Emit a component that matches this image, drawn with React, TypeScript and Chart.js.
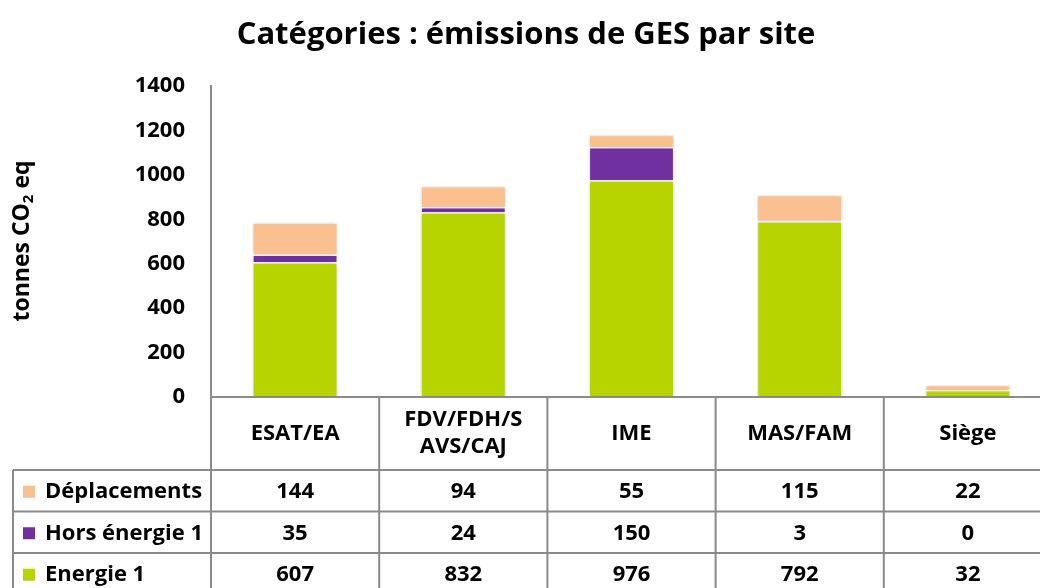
import React, { useEffect, useRef } from "react";
import { Chart, registerables } from "chart.js";

Chart.register(...registerables);

const titleText = "Catégories : émissions de GES par site";
const categoryLines: string[][] = [["ESAT/EA"], ["FDV/FDH/S", "AVS/CAJ"], ["IME"], ["MAS/FAM"], ["Siège"]];
const categories = categoryLines.map((l) => l.join(""));
const energie1 = [607, 832, 976, 792, 32];
const horsEnergie1 = [35, 24, 150, 3, 0];
const deplacements = [144, 94, 55, 115, 22];
const yMin = 0;
const yMax = 1400;
const yStep = 200;

const FONT = "'Open Sans', 'Noto Sans', sans-serif";
const GRID = "#8a8a8a";

const tablePlugin = {
  id: "dataTable",
  afterDraw(chart: any) {
    const { ctx, chartArea } = chart;
    const xs = chart.scales.x;
    const n = categories.length;
    const catW = (chartArea.right - chartArea.left) / n;
    const top = chartArea.bottom;
    const headerBottom = top + 73;
    const rowH = 41.5;
    const bottom = chart.height + 10;
    const legendLeft = 13;
    ctx.save();
    ctx.strokeStyle = GRID;
    ctx.lineWidth = 2;
    ctx.beginPath();
    ctx.moveTo(chartArea.left, top);
    ctx.lineTo(chart.width, top);
    ctx.stroke();
    for (let i = 0; i <= n; i++) {
      const x = chartArea.left + i * catW;
      ctx.beginPath();
      ctx.moveTo(x, top);
      ctx.lineTo(x, bottom);
      ctx.stroke();
    }
    ctx.beginPath();
    ctx.moveTo(legendLeft, headerBottom);
    ctx.lineTo(legendLeft, bottom);
    ctx.stroke();
    for (let r = 0; r < 3; r++) {
      const y = headerBottom + r * rowH;
      ctx.beginPath();
      ctx.moveTo(legendLeft, y);
      ctx.lineTo(chart.width, y);
      ctx.stroke();
    }
    ctx.fillStyle = "#000";
    ctx.font = `bold 22px ${FONT}`;
    ctx.textAlign = "center";
    ctx.textBaseline = "middle";
    const headerMid = (top + headerBottom) / 2;
    categoryLines.forEach((lines, i) => {
      const cx = xs.getPixelForValue(i);
      const lh = 27;
      lines.forEach((t, k) => {
        ctx.fillText(t, cx, headerMid + (k - (lines.length - 1) / 2) * lh);
      });
    });
    const ds = chart.data.datasets.slice().reverse();
    ds.forEach((d: any, r: number) => {
      const cy = headerBottom + r * rowH + rowH / 2 + 1;
      ctx.textAlign = "center";
      ctx.fillStyle = "#000";
      d.data.forEach((v: number, i: number) => {
        ctx.fillText(String(v), xs.getPixelForValue(i), cy);
      });
      ctx.fillStyle = d.backgroundColor;
      ctx.fillRect(23, cy - 6, 12, 12);
      ctx.fillStyle = "#000";
      ctx.textAlign = "left";
      ctx.fillText(d.label, 45, cy);
    });
    // y axis title with subscript
    ctx.translate(22, 241);
    ctx.rotate(-Math.PI / 2);
    ctx.textBaseline = "middle";
    ctx.textAlign = "left";
    const p1 = "tonnes CO";
    const p2 = "2";
    const p3 = " eq";
    const big = `bold 23px ${FONT}`;
    const small = `bold 15px ${FONT}`;
    ctx.font = big;
    const w1 = ctx.measureText(p1).width;
    const w3 = ctx.measureText(p3).width;
    ctx.font = small;
    const w2 = ctx.measureText(p2).width;
    const x0 = -(w1 + w2 + w3) / 2;
    ctx.font = big;
    ctx.fillText(p1, x0, 0);
    ctx.font = small;
    ctx.fillText(p2, x0 + w1, 7);
    ctx.font = big;
    ctx.fillText(p3, x0 + w1 + w2, 0);
    ctx.restore();
  },
};

const shadowPlugin = {
  id: "barShadow",
  beforeDatasetsDraw(chart: any) {
    const ctx = chart.ctx;
    ctx.save();
    ctx.shadowColor = "rgba(0,0,0,0.22)";
    ctx.shadowBlur = 4;
  },
  afterDatasetsDraw(chart: any) {
    chart.ctx.restore();
  },
};

export default function App() {
  const ref = useRef<HTMLCanvasElement>(null);
  useEffect(() => {
    Chart.defaults.font.family = FONT;
    const common = { borderColor: "#ffffff", borderWidth: 1.5, categoryPercentage: 1, barPercentage: 0.51 };
    const chart = new Chart(ref.current as HTMLCanvasElement, {
      type: "bar",
      data: {
        labels: categories,
        datasets: [
          { label: "Energie 1", data: energie1, backgroundColor: "#B7D400", ...common },
          { label: "Hors énergie 1", data: horsEnergie1, backgroundColor: "#7030A0", ...common },
          { label: "Déplacements", data: deplacements, backgroundColor: "#FAC090", ...common },
        ],
      },
      options: {
        animation: false,
        responsive: false,
        devicePixelRatio: 1,
        layout: { padding: { top: 0, left: 0, right: 0, bottom: 191 } },
        plugins: {
          legend: { display: false },
          tooltip: { enabled: false },
          title: {
            display: true,
            text: titleText,
            color: "#000",
            font: { size: 31, weight: "bold", family: FONT },
            padding: { top: 17, bottom: 32 },
          },
        },
        scales: {
          x: { stacked: true, display: false },
          y: {
            stacked: true,
            min: yMin,
            max: yMax,
            ticks: {
              stepSize: yStep,
              color: "#000",
              font: { size: 22, weight: "bold", family: FONT },
              padding: 26,
              callback: (v: any) => String(v),
            },
            grid: { display: false, drawTicks: false },
            border: { display: true, color: GRID, width: 2 },
            afterFit(s: any) {
              s.width = 211;
            },
          },
        },
      },
      plugins: [shadowPlugin, tablePlugin],
    } as any);
    return () => chart.destroy();
  }, []);
  return (
    <div style={{ position: "fixed", left: 0, top: 0, width: 1040, height: 588, overflow: "hidden", background: "#fff" }}>
      <canvas ref={ref} width={1052} height={588} style={{ display: "block", width: 1052, height: 588 }} />
    </div>
  );
}
